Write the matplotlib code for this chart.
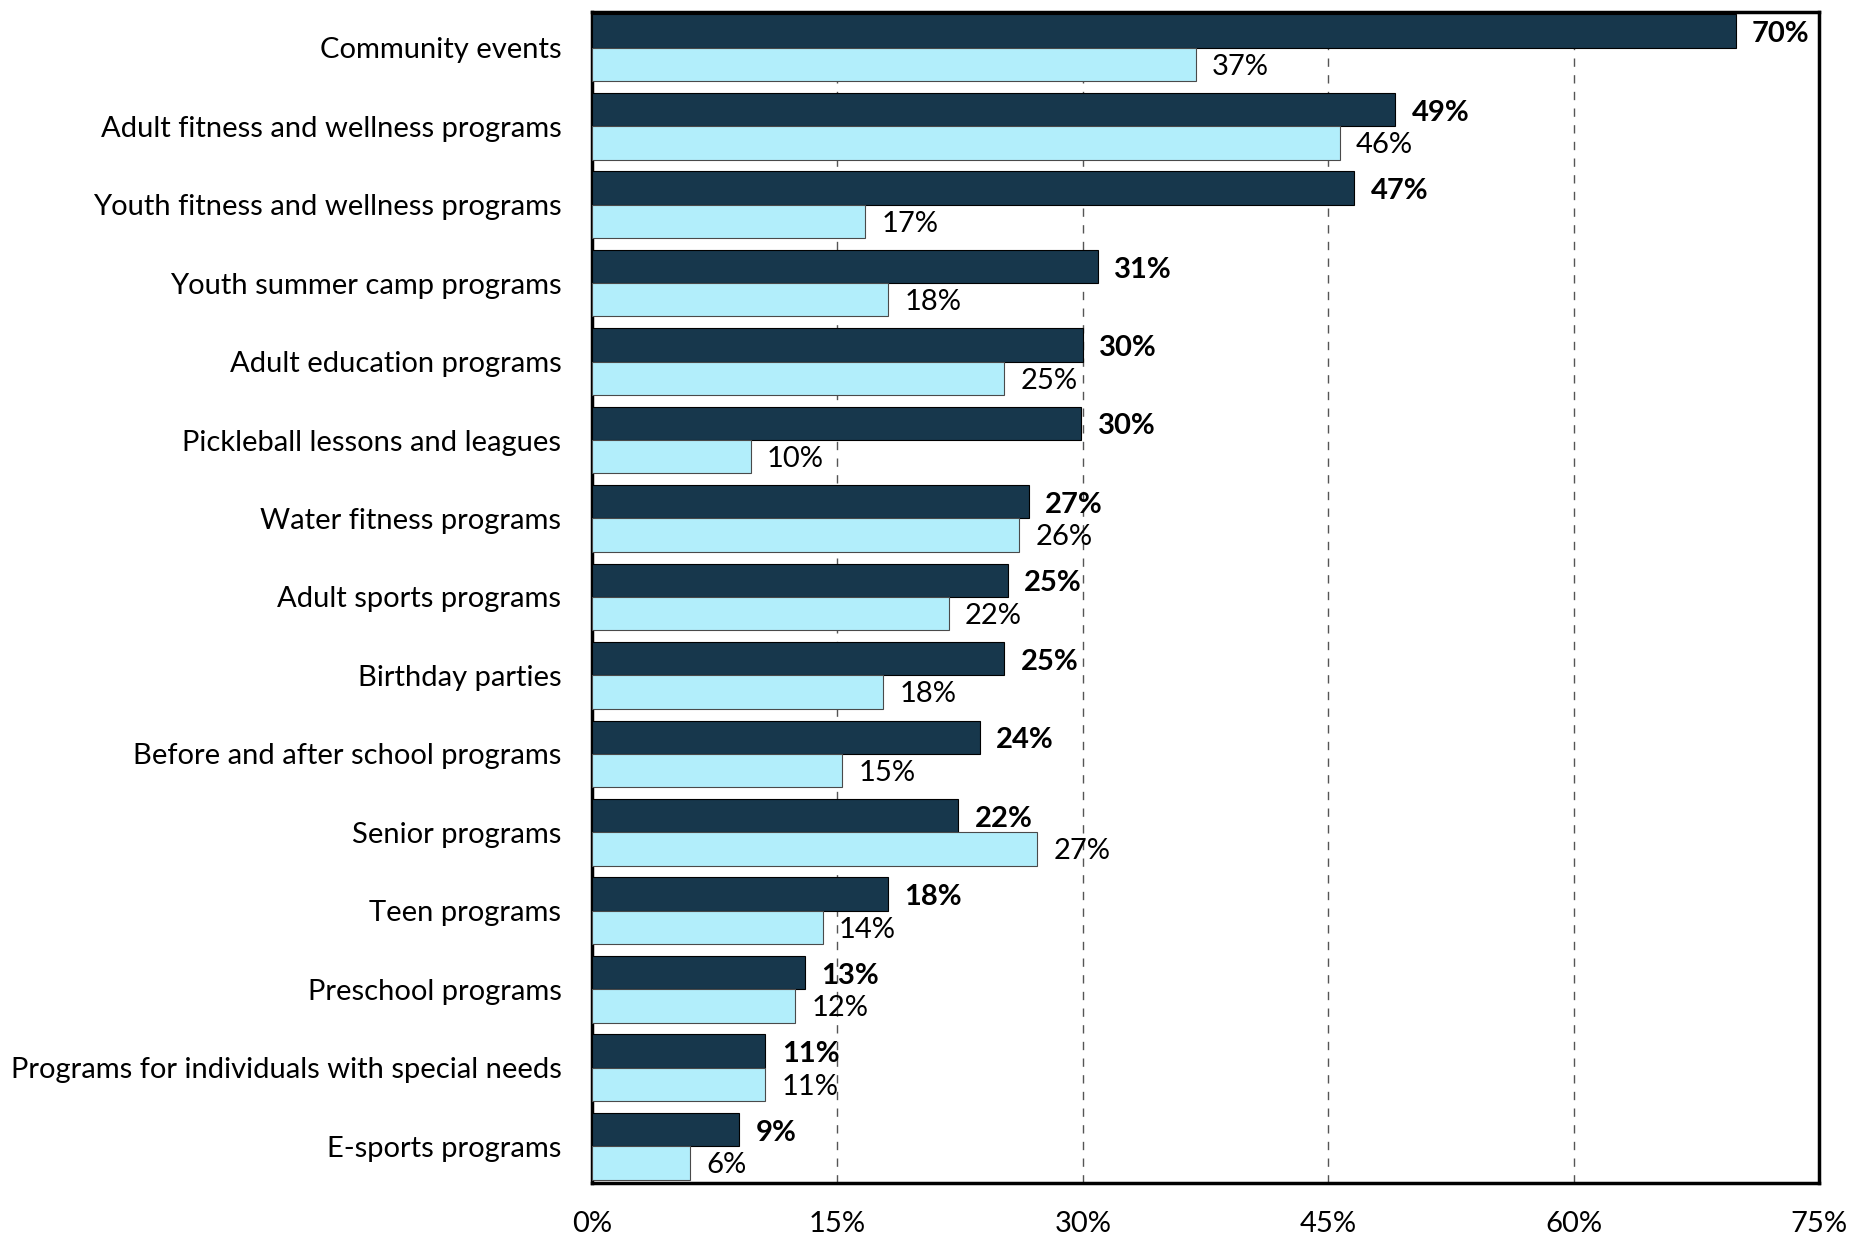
import numpy as np
import matplotlib
matplotlib.use("Agg")
import matplotlib.pyplot as plt

plt.rcParams["font.family"] = ["Lato", "DejaVu Sans"]

# Categorias (de cima para baixo)
categories = [
    "Community events",
    "Adult fitness and wellness programs",
    "Youth fitness and wellness programs",
    "Youth summer camp programs",
    "Adult education programs",
    "Pickleball lessons and leagues",
    "Water fitness programs",
    "Adult sports programs",
    "Birthday parties",
    "Before and after school programs",
    "Senior programs",
    "Teen programs",
    "Preschool programs",
    "Programs for individuals with special needs",
    "E-sports programs",
]

# Serie escura (rotulos em negrito)
dark_values = [69.9, 49.1, 46.6, 30.9, 30.0, 29.9, 26.7, 25.4, 25.2, 23.7, 22.4, 18.1, 13.0, 10.6, 9.0]
# Serie clara
light_values = [36.9, 45.7, 16.7, 18.1, 25.2, 9.7, 26.1, 21.8, 17.8, 15.3, 27.2, 14.1, 12.4, 10.6, 6.0]

x_ticks = [0, 15, 30, 45, 60, 75]

dark_color = "#17374C"
light_color = "#B2EEFB"

fig = plt.figure(figsize=(18.7, 12.38), dpi=100)
ax = fig.add_axes([0.3166, 0.0444, 0.9727 - 0.3166, 0.9903 - 0.0444])

y = np.arange(len(categories))
h = 0.425

ax.barh(y - h / 2, dark_values, height=h, color=dark_color, edgecolor="#000000", linewidth=0.8, zorder=3)
ax.barh(y + h / 2, light_values, height=h, color=light_color, edgecolor="#4a4a4a", linewidth=0.8, zorder=3)

# rotulos de valor
for i in range(len(categories)):
    ax.text(dark_values[i] + 1.0, y[i] - h / 2 + 0.04, f"{dark_values[i]:.0f}%", va="center", ha="left",
            fontsize=21, fontweight="bold", color="black", zorder=4)
    ax.text(light_values[i] + 1.0, y[i] + h / 2 + 0.03, f"{light_values[i]:.0f}%", va="center", ha="left",
            fontsize=21, color="black", zorder=4)

ax.set_xlim(0, 75)
ax.set_ylim(len(categories) - 0.53, -0.455)
ax.set_xticks(x_ticks)
ax.set_xticklabels([f"{t}%" for t in x_ticks])
ax.set_yticks(y)
ax.set_yticklabels(categories)
ax.tick_params(axis="both", length=0, labelsize=21)
ax.tick_params(axis="x", pad=20)
ax.tick_params(axis="y", pad=22)

for t in x_ticks[1:-1]:
    ax.axvline(t, color="#555555", linestyle=(0, (6, 6)), linewidth=1.0, zorder=1)

for s in ax.spines.values():
    s.set_linewidth(2.5)
    s.set_color("black")

fig.savefig("out.png", dpi=100)
